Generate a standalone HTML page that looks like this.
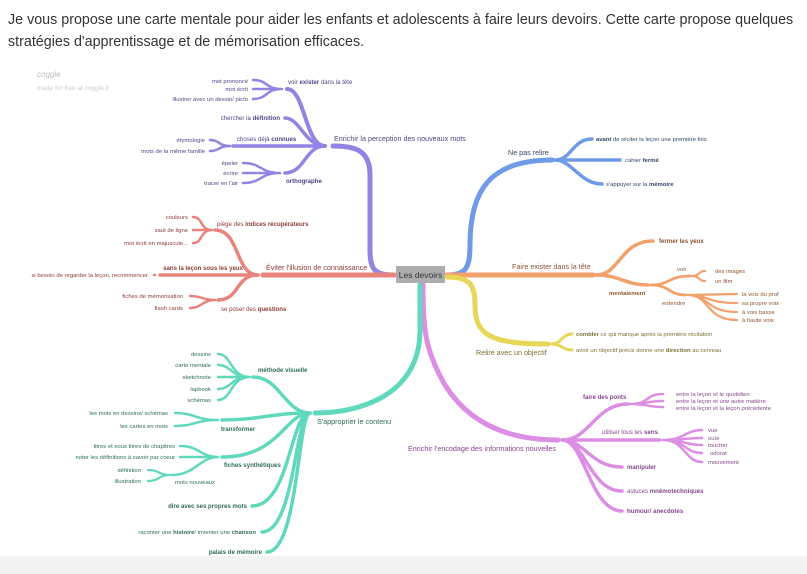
<!DOCTYPE html>
<html><head><meta charset="utf-8"><style>
body{margin:0;width:807px;height:574px;overflow:hidden;background:#fff;font-family:"Liberation Sans",sans-serif}
.hd{position:absolute;left:8px;top:9px;font-size:14.3px;line-height:22px;color:#333;width:797px}
svg{position:absolute;left:0;top:0}
text{font-family:"Liberation Sans",sans-serif}
.l{font-size:5.9px}.m{font-size:6.1px}.b{font-weight:bold}.M{font-size:7.2px}
path{fill:none;stroke-linecap:round}
</style></head><body>
<div style="position:absolute;left:0;top:556px;width:807px;height:18px;background:#f3f3f3"></div>
<div class="hd">Je vous propose une carte mentale pour aider les enfants et adolescents à faire leurs devoirs. Cette carte propose quelques stratégies d'apprentissage et de mémorisation efficaces.</div>
<svg width="807" height="574" viewBox="0 0 807 574">
<text x="37" y="77" font-size="8" fill="#bbb" font-style="italic">coggle</text>
<text x="37" y="90" font-size="6.5" fill="#ccc">made for free at coggle.it</text>

<!-- PURPLE -->
<g stroke="#9184e2">
<path d="M394 275 C375 275 370 270 370 250 L370 175 C370 150 355 146 333 146" stroke-width="5"/>
<path d="M325 146 C305 146 305 89 287 89" stroke-width="4"/>
<path d="M325 146 C305 146 300 118 285 118" stroke-width="3.5"/>
<path d="M325 146 L233 146" stroke-width="3.5"/>
<path d="M325 146 C305 146 305 173 285 173" stroke-width="3.5"/>
<path d="M282 89 C265 89 268 80 253 80 M282 89 L253 89 M282 89 C265 89 268 99 253 99" stroke-width="2.5"/>
<path d="M230 146 C218 146 220 140 210 140 M230 146 C218 146 220 151 210 151" stroke-width="2.5"/>
<path d="M280 173 C260 173 262 163 243 163 M280 173 L243 173 M280 173 C260 173 262 183 243 183" stroke-width="2.5"/>
</g>
<g fill="#4f4585">
<text x="334" y="141" class="M">Enrichir la perception des nouveaux mots</text>
<text x="288" y="84" class="m">voir <tspan class="b">exister</tspan> dans la tête</text>
<text x="280" y="120" class="m" text-anchor="end">chercher la <tspan class="b">définition</tspan></text>
<text x="237" y="141" class="m">choses déjà <tspan class="b">connues</tspan></text>
<text x="286" y="183" class="m b">orthographe</text>
<text x="248" y="83" class="l" text-anchor="end">mot prononcé</text>
<text x="248" y="91" class="l" text-anchor="end">mot écrit</text>
<text x="248" y="101" class="l" text-anchor="end">illustrer avec un dessin/ picto</text>
<text x="205" y="142" class="l" text-anchor="end">étymologie</text>
<text x="205" y="153" class="l" text-anchor="end">mots de la même famille</text>
<text x="238" y="165" class="l" text-anchor="end">épeler</text>
<text x="238" y="175" class="l" text-anchor="end">écrire</text>
<text x="238" y="185" class="l" text-anchor="end">tracer en l'air</text>
</g>

<!-- RED -->
<g stroke="#e8847c">
<path d="M394 275 L263 275" stroke-width="5"/>
<path d="M258 275 C235 275 240 230 215 230" stroke-width="3.5"/>
<path d="M258 275 L160 275" stroke-width="3.5"/>
<path d="M258 275 C235 275 240 300 218 300" stroke-width="3.5"/>
<path d="M155 275 L154 275" stroke-width="2.5"/>
<path d="M212 230 C200 230 203 217 193 217 M212 230 L193 230 M212 230 C200 230 203 243 193 243" stroke-width="2.5"/>
<path d="M215 300 C202 300 202 296 190 296 M215 300 C202 300 202 308 190 308" stroke-width="2.5"/>
</g>
<g fill="#8c3b36">
<text x="266" y="270" class="M">Éviter l'illusion de connaissance</text>
<text x="217" y="226" class="m">piège des <tspan class="b">indices récupérateurs</tspan></text>
<text x="243" y="270" class="m b" text-anchor="end">sans la leçon sous les yeux</text>
<text x="221" y="311" class="m">se poser des <tspan class="b">questions</tspan></text>
<text x="148" y="277" class="l" text-anchor="end">si besoin de regarder la leçon, recommencer</text>
<text x="188" y="219" class="l" text-anchor="end">couleurs</text>
<text x="188" y="232" class="l" text-anchor="end">saut de ligne</text>
<text x="188" y="245" class="l" text-anchor="end">mot écrit en majuscule...</text>
<text x="183" y="298" class="l" text-anchor="end">fiches de mémorisation</text>
<text x="183" y="310" class="l" text-anchor="end">flash cards</text>
</g>

<!-- BLUE -->
<g stroke="#6e9ae6">
<path d="M447 275 C466 275 470 268 470 245 C470 190 490 160 552 160" stroke-width="5"/>
<path d="M555 160 C572 160 572 139 592 139 M555 160 L620 160 M555 160 C572 160 580 184 602 184" stroke-width="3.5"/>
</g>
<g fill="#33456b">
<text x="508" y="155" class="M">Ne pas relire</text>
<text x="596" y="141" class="l"><tspan class="b">avant</tspan> de réciter la leçon une première fois</text>
<text x="625" y="162" class="l">cahier <tspan class="b">fermé</tspan></text>
<text x="606" y="186" class="l">s'appuyer sur la <tspan class="b">mémoire</tspan></text>
</g>

<!-- ORANGE -->
<g stroke="#f2a06c">
<path d="M447 275 L593 275" stroke-width="5"/>
<path d="M596 275 C620 275 620 241 653 241" stroke-width="3.5"/>
<path d="M596 275 C620 275 625 285 648 285" stroke-width="3.5"/>
<path d="M651 285 C670 285 668 276 690 276 M651 285 C670 285 668 295 686 295" stroke-width="2.8"/>
<path d="M692 276 C700 276 698 271 705 271 M692 276 C700 276 698 281 705 281" stroke-width="2.2"/>
<path d="M688 295 L737 294 M688 295 C710 295 705 303 737 303 M688 295 C710 295 705 312 737 312 M688 295 C710 295 705 320 737 320" stroke-width="2.2"/>
</g>
<g fill="#8a5530">
<text x="512" y="269" class="M">Faire exister dans la tête</text>
<text x="659" y="243" class="m b">fermer les yeux</text>
<text x="609" y="295" class="l b">mentalement</text>
<text x="677" y="271" class="l">voir</text>
<text x="662" y="305" class="l">entendre</text>
<text x="715" y="273" class="l">des images</text>
<text x="715" y="283" class="l">un film</text>
<text x="742" y="296" class="l">la voix du prof</text>
<text x="742" y="305" class="l">sa propre voix</text>
<text x="742" y="314" class="l">à voix basse</text>
<text x="742" y="322" class="l">à haute voix</text>
</g>

<!-- YELLOW -->
<g stroke="#e8d659">
<path d="M447 277 C470 277 475 285 475 305 C475 335 490 344 548 344" stroke-width="5"/>
<path d="M551 344 C562 344 562 334 572 334 M551 344 C562 344 562 350 572 350" stroke-width="3"/>
</g>
<g fill="#7a7030">
<text x="476" y="355" class="M">Relire avec un objectif</text>
<text x="576" y="336" class="l"><tspan class="b">combler</tspan> ce qui manque après la première récitation</text>
<text x="576" y="352" class="l">avoir un objectif précis donne une <tspan class="b">direction</tspan> au cerveau</text>
</g>

<!-- PINK -->
<g stroke="#dc8ee4">
<path d="M423 283 C423 330 425 350 445 385 C470 425 510 440 558 440" stroke-width="5"/>
<path d="M562 440 C590 440 595 404 628 404" stroke-width="3.5"/>
<path d="M562 440 L660 440" stroke-width="3.5"/>
<path d="M562 440 C585 440 590 467 622 467 M562 440 C585 440 590 491 622 491 M562 440 C585 440 590 511 622 511" stroke-width="3.5"/>
<path d="M630 404 C650 404 645 394 663 394 M630 404 C650 404 645 401 663 401 M630 404 C650 404 645 407 663 407" stroke-width="2.5"/>
<path d="M663 440 C685 440 685 430 702 430 M663 440 C685 440 685 438 702 438 M663 440 C685 440 685 445 702 445 M663 440 C685 440 685 453 702 453 M663 440 C685 440 685 462 702 462" stroke-width="2.5"/>
</g>
<g fill="#87458d">
<text x="408" y="451" class="M">Enrichir l'encodage des informations nouvelles</text>
<text x="583" y="399" class="m b">faire des ponts</text>
<text x="602" y="434" class="m">utiliser tous les <tspan class="b">sens</tspan></text>
<text x="627" y="469" class="m b">manipuler</text>
<text x="627" y="493" class="m">astuces <tspan class="b">mnémotechniques</tspan></text>
<text x="627" y="513" class="m b">humour/ anecdotes</text>
<text x="676" y="396" class="l">entre la leçon et le quotidien</text>
<text x="676" y="403" class="l">entre la leçon et une autre matière</text>
<text x="676" y="410" class="l">entre la leçon et la leçon précédente</text>
<text x="708" y="432" class="l">vue</text>
<text x="708" y="440" class="l">ouïe</text>
<text x="708" y="447" class="l">toucher</text>
<text x="710" y="455" class="l">odorat</text>
<text x="708" y="464" class="l">mouvement</text>
</g>

<!-- TEAL -->
<g stroke="#5fd8bc">
<path d="M420 285 L420 330 C420 395 360 413 315 413" stroke-width="5"/>
<path d="M310 413 C285 413 280 377 253 377" stroke-width="3.5"/>
<path d="M310 413 C270 413 260 420 222 420" stroke-width="3.5"/>
<path d="M310 413 C285 413 280 457 222 457" stroke-width="3.5"/>
<path d="M310 413 C290 413 290 506 252 506 M310 413 C295 413 295 532 262 532 M310 413 C298 413 298 552 267 552" stroke-width="3.5"/>
<path d="M250 377 C230 377 232 354 218 354 M250 377 C230 377 232 365 218 365 M250 377 L218 377 M250 377 C230 377 232 389 218 389 M250 377 C230 377 232 400 218 400" stroke-width="2.5"/>
<path d="M218 420 C195 420 195 413 175 413 M218 420 C195 420 195 426 175 426" stroke-width="2.5"/>
<path d="M218 457 C200 457 200 446 180 446 M218 457 L180 457 M218 457 C200 457 195 475 172 475" stroke-width="2.5"/>
<path d="M170 475 C158 475 160 470 148 470 M170 475 C158 475 160 481 148 481" stroke-width="2.2"/>
</g>
<g fill="#2f6b5b">
<text x="317" y="424" class="M">S'approprier le contenu</text>
<text x="258" y="372" class="m b">méthode visuelle</text>
<text x="221" y="431" class="m b">transformer</text>
<text x="224" y="467" class="m b">fiches synthétiques</text>
<text x="175" y="484" class="l">mots nouveaux</text>
<text x="247" y="508" class="m b" text-anchor="end">dire avec ses propres mots</text>
<text x="256" y="534" class="l" text-anchor="end">raconter une <tspan class="b">histoire</tspan>/ inventer une <tspan class="b">chanson</tspan></text>
<text x="262" y="554" class="m b" text-anchor="end">palais de mémoire</text>
<text x="211" y="356" class="l" text-anchor="end">dessins</text>
<text x="211" y="367" class="l" text-anchor="end">carte mentale</text>
<text x="211" y="379" class="l" text-anchor="end">sketchnote</text>
<text x="211" y="391" class="l" text-anchor="end">lapbook</text>
<text x="211" y="402" class="l" text-anchor="end">schémas</text>
<text x="168" y="415" class="l" text-anchor="end">les mots en dessins/ schémas</text>
<text x="168" y="428" class="l" text-anchor="end">les cartes en mots</text>
<text x="175" y="448" class="l" text-anchor="end">titres et sous titres de chapitres</text>
<text x="175" y="459" class="l" text-anchor="end">noter les définitions à savoir par coeur</text>
<text x="141" y="472" class="l" text-anchor="end">définition</text>
<text x="141" y="483" class="l" text-anchor="end">illustration</text>
</g>

<!-- CENTER -->
<rect x="396" y="266" width="49" height="17" fill="#adadad"/>
<text x="420.5" y="278" font-size="8.5" fill="#333" text-anchor="middle">Les devoirs</text>
</svg>
</body></html>
